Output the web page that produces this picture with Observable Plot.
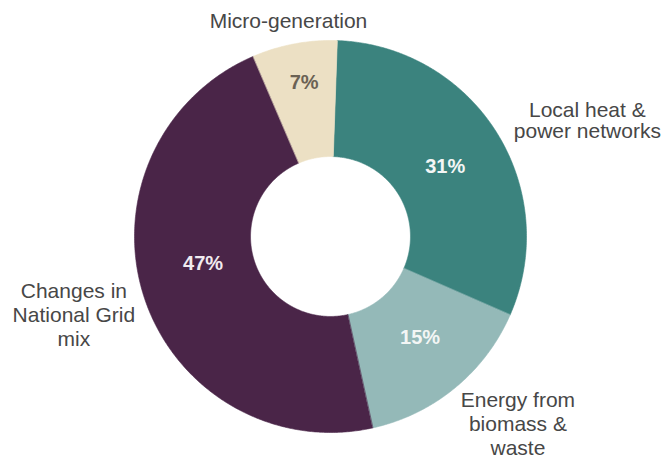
<!DOCTYPE html>
<html>
<head>
<meta charset="utf-8">
<script src="https://cdn.jsdelivr.net/npm/d3@7"></script>
<script src="https://cdn.jsdelivr.net/npm/@observablehq/plot@0.6"></script>
<style>
  html, body { margin: 0; padding: 0; background: #ffffff; }
  #chart svg { display: block; }
</style>
</head>
<body>
<div id="chart"></div>
<script>
// Shares of the carbon saving, by source (per cent)
const categories = [
  "Local heat & power networks",
  "Energy from biomass & waste",
  "Changes in National Grid mix",
  "Micro-generation"
];
const shares = [31, 15, 47, 7];
const nameLabels = [
  "Local heat &\npower networks",
  "Energy from\nbiomass &\nwaste",
  "Changes in\nNational Grid\nmix",
  "Micro-generation"
];

// Styling and layout
const palette = ["#3b837e", "#94b9b8", "#4a2548", "#ece0c4"];
const valueColors = ["#f3f6f5", "#f3f6f5", "#f1ebf0", "#6b6254"];
const W = 661, H = 462;
const CX = 330, CY = 236, R = 196;      // ring centre and outer radius, px
const innerRatio = 0.408;               // hole radius / outer radius
const startAngle = 2;                   // degrees clockwise from 12 o'clock
const nameNudge = [[91, -11], [63, 35], [-70, 18], [-6, -23]];
const nameLineHeight = [1.0, 1.14, 1.14, 1];
const valueNudge = [[-2, 4], [2, -6], [4, -15], [-1, -18]];
const font = "'Liberation Sans', Arial, Helvetica, sans-serif";

const total = d3.sum(shares);
const rad = (deg) => deg * Math.PI / 180;
const px = (deg, r) => r * Math.sin(rad(deg));
const py = (deg, r) => r * Math.cos(rad(deg));

let acc = 0;
const slices = categories.map((category, i) => {
  const a0 = startAngle + (acc / total) * 360;
  acc += shares[i];
  const a1 = startAngle + (acc / total) * 360;
  return {category, value: shares[i], name: nameLabels[i], a0, a1, mid: (a0 + a1) / 2, i};
});

// Outline of each ring segment: outer arc forward, inner arc back
const ring = slices.flatMap((s) => {
  const n = Math.max(2, Math.ceil((s.a1 - s.a0) / 0.5));
  const pts = [];
  for (let k = 0; k <= n; ++k) {
    const a = s.a0 + (s.a1 - s.a0) * k / n;
    pts.push({category: s.category, x: px(a, 1), y: py(a, 1)});
  }
  for (let k = n; k >= 0; --k) {
    const a = s.a0 + (s.a1 - s.a0) * k / n;
    pts.push({category: s.category, x: px(a, innerRatio), y: py(a, innerRatio)});
  }
  return pts;
});

const midR = (1 + innerRatio) / 2;

const nameMarks = slices.map((s) => Plot.text([s], {
  x: (d) => px(d.mid, 1),
  y: (d) => py(d.mid, 1),
  text: "name",
  dx: nameNudge[s.i][0],
  dy: nameNudge[s.i][1],
  lineHeight: nameLineHeight[s.i],
  textAnchor: "middle",
  fontSize: 21,
  fill: "#474747"
}));

const valueMarks = slices.map((s) => Plot.text([s], {
  x: (d) => px(d.mid, midR),
  y: (d) => py(d.mid, midR),
  text: (d) => `${d.value}%`,
  dx: valueNudge[s.i][0],
  dy: valueNudge[s.i][1],
  textAnchor: "middle",
  fontSize: 20,
  fontWeight: "bold",
  fill: valueColors[s.i]
}));

const chart = Plot.plot({
  width: W,
  height: H,
  margin: 0,
  style: {fontFamily: font, background: "#ffffff"},
  x: {domain: [-CX / R, (W - CX) / R], axis: null},
  y: {domain: [(CY - H) / R, CY / R], axis: null},
  color: {domain: categories, range: palette},
  marks: [
    Plot.line(ring, {
      x: "x", y: "y", z: "category",
      fill: "category", stroke: "category", strokeWidth: 0.6,
      curve: "linear-closed"
    }),
    ...valueMarks,
    ...nameMarks
  ]
});

document.getElementById("chart").appendChild(chart);
</script>
</body>
</html>
